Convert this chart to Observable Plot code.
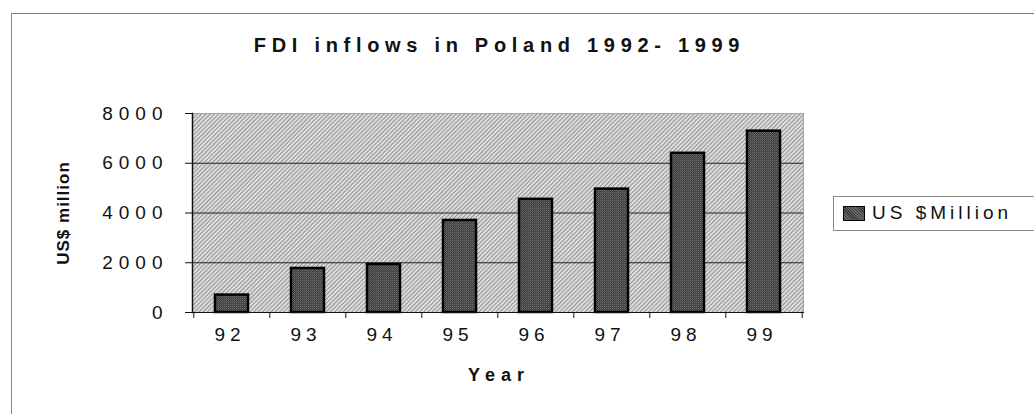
<!DOCTYPE html>
<html>
<head>
<meta charset="utf-8">
<script src="https://cdn.jsdelivr.net/npm/d3@7"></script>
<script src="https://cdn.jsdelivr.net/npm/@observablehq/plot@0.6"></script>
<style>
  html, body { margin: 0; padding: 0; background: #fff; }
  #wrap { position: relative; width: 1034px; height: 414px; overflow: hidden; font-family: "Liberation Sans", Arial, sans-serif; }
  #outer { position: absolute; left: 11px; top: 13px; right: -2px; bottom: -2px; border-left: 1px solid #8a8a8a; border-top: 1px solid #7a7a7a; }
  #legend { position: absolute; left: 833px; top: 196px; width: 210px; height: 33px; border: 1px solid #8a8a8a; background: #fff; }
  #legend .sw { position: absolute; left: 9px; top: 9px; width: 20px; height: 13px; border: 1px solid #000; background: #3c3c3c;
    background-image: repeating-linear-gradient(45deg, #6a6a6a 0 1px, #3a3a3a 1px 2px); }
  #legend .lb { position: absolute; left: 38px; top: 5px; font-size: 19px; letter-spacing: 4px; color: #111; white-space: nowrap; }
  svg { position: absolute; left: 0; top: 0; }
</style>
</head>
<body>
<div id="wrap">
  <div id="outer"></div>
</div>
<script>
// ---- data ----
const years = ["92", "93", "94", "95", "96", "97", "98", "99"];
const values = [700, 1770, 1930, 3700, 4550, 4960, 6400, 7290];
const yTicks = [0, 2000, 4000, 6000, 8000];
const gridValues = [2000, 4000, 6000];
const titleText = "FDI inflows in Poland 1992- 1999";
const xTitle = "Year";
const yTitle = "US$ million";
const legendLabel = "US $Million";

const data = years.map((y, i) => ({year: y, value: values[i]}));

const W = 1034, H = 414, mL = 192, mR = 231, mT = 113, mB = 102;
const step = (W - mL - mR) / years.length;

const svg = Plot.plot({
  width: W, height: H,
  marginLeft: mL, marginRight: mR, marginTop: mT, marginBottom: mB,
  style: {fontFamily: '"Liberation Sans", Arial, sans-serif', fontSize: "19px", color: "#111", background: "transparent", overflow: "visible"},
  x: {domain: years, paddingInner: 0.57, paddingOuter: 0.285, label: null, axis: null},
  y: {domain: [0, 8000], label: null, axis: null},
  marks: [
    Plot.frame({fill: "url(#bgHatch)"}),
    Plot.ruleY(gridValues, {stroke: "#222", strokeWidth: 1}),
    Plot.frame({stroke: "#666", strokeDasharray: "1,1"}),
    Plot.barY(data, {x: "year", y: "value", fill: "url(#barHatch)", stroke: "#000", strokeWidth: 2.5}),
    Plot.frame({anchor: "left", stroke: "#111", strokeWidth: 1.5}),
    Plot.frame({anchor: "bottom", stroke: "#111", strokeWidth: 1}),
    Plot.axisY({ticks: yTicks, tickSize: 7, tickPadding: 17, tickFormat: d => String(d), label: null, fontSize: 19}),
    Plot.axisX({tickSize: 0, tickPadding: 15, label: null, fontSize: 19}),
    Plot.ruleX(years, {x: d => d, y1: 0, y2: 0, insetBottom: -6, dx: -step / 2, stroke: "#111"}),
    Plot.ruleX(years.slice(-1), {x: d => d, y1: 0, y2: 0, insetBottom: -6, dx: step / 2, stroke: "#111"}),
    Plot.text([titleText], {frameAnchor: "top", lineAnchor: "middle", dy: -68, fontWeight: "bold", fontSize: 20, fill: "#111"}),
    Plot.text([xTitle], {frameAnchor: "bottom", lineAnchor: "middle", dy: 63, fontWeight: "bold", fontSize: 18, fill: "#111"}),
    Plot.text([yTitle], {frameAnchor: "left", rotate: -90, textAnchor: "middle", dx: -129, fontWeight: "bold", fontSize: 17, fill: "#111"})
  ]
});

// patterns
const sel = d3.select(svg);
const defs = sel.insert("defs", ":first-child");
const bg = defs.append("pattern").attr("id", "bgHatch").attr("patternUnits", "userSpaceOnUse")
  .attr("width", 3).attr("height", 3).attr("patternTransform", "rotate(45)");
bg.append("rect").attr("width", 3).attr("height", 3).attr("fill", "#dcdcdc");
bg.append("line").attr("x1", 0.5).attr("y1", 0).attr("x2", 0.5).attr("y2", 3).attr("stroke", "#939393").attr("stroke-width", 1);
const bp = defs.append("pattern").attr("id", "barHatch").attr("patternUnits", "userSpaceOnUse")
  .attr("width", 2).attr("height", 2);
bp.append("rect").attr("width", 2).attr("height", 2).attr("fill", "#3a3a3a");
bp.append("rect").attr("width", 1).attr("height", 1).attr("fill", "#707070");
bp.append("rect").attr("x", 1).attr("y", 1).attr("width", 1).attr("height", 1).attr("fill", "#5a5a5a");

// letter spacing
const byText = t => sel.selectAll("text").filter(function() { return this.textContent === t; });
byText(titleText).style("letter-spacing", "5.7px").attr("dx", 1.5);
byText(xTitle).style("letter-spacing", "6px").attr("dx", 1);
byText(yTitle).style("letter-spacing", "1px");
yTicks.forEach(v => byText(String(v)).style("letter-spacing", "6px").style("font-size", "19px"));
years.forEach(v => byText(v).style("letter-spacing", "5px").style("font-size", "19px").attr("dx", -2));

document.getElementById("wrap").appendChild(svg);

// legend (HTML)
const leg = document.createElement("div");
leg.id = "legend";
leg.innerHTML = '<div class="sw"></div><div class="lb"></div>';
leg.querySelector(".lb").textContent = legendLabel;
document.getElementById("wrap").appendChild(leg);
</script>
</body>
</html>
